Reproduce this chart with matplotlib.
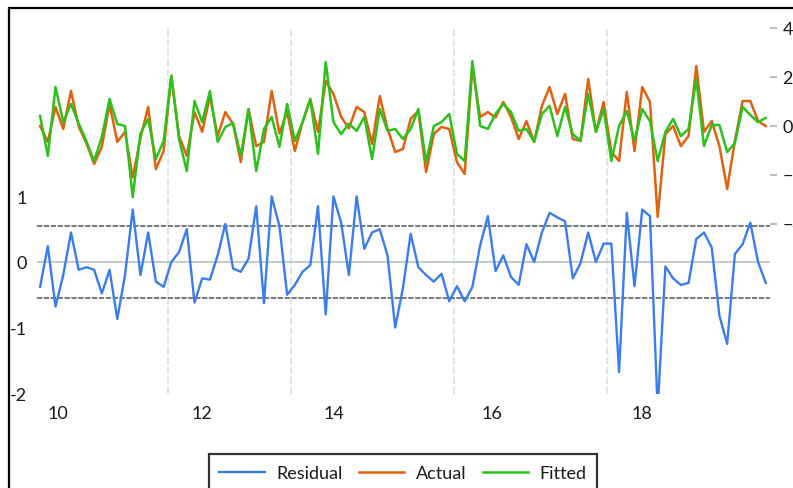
import numpy as np
import matplotlib
matplotlib.use('Agg')
import matplotlib.pyplot as plt
from matplotlib.patches import Rectangle

plt.rcParams['font.family'] = ['Lato', 'DejaVu Sans']

residual = [-0.38, 0.24, -0.68, -0.2, 0.45, -0.12, -0.08, -0.12, -0.48, -0.12,
            -0.87, -0.2, 0.8, -0.2, 0.45, -0.3, -0.38, 0.0, 0.15, 0.5,
            -0.62, -0.25, -0.27, 0.1, 0.58, -0.1, -0.15, 0.05, 0.85, -0.63,
            1.0, 0.55, -0.5, -0.35, -0.15, -0.05, 0.85, -0.8, 1.0, 0.6,
            -0.2, 1.0, 0.2, 0.45, 0.5, 0.1, -1.0, -0.4, 0.43, -0.08,
            -0.2, -0.3, -0.18, -0.6, -0.37, -0.6, -0.38, 0.25, 0.7, -0.14,
            0.1, -0.23, -0.35, 0.27, 0.0, 0.45, 0.75, 0.68, 0.62, -0.25,
            -0.02, 0.45, 0.0, 0.28, 0.28, -1.68, 0.75, -0.37, 0.8, 0.7,
            -2.25, -0.07, -0.25, -0.35, -0.32, 0.35, 0.45, 0.22, -0.82, -1.25,
            0.12, 0.27, 0.6, 0.0, -0.32]

actual = [0.0, -0.65, 0.78, -0.12, 1.43, -0.02, -0.7, -1.55, -0.85, 0.9,
          -0.65, -0.24, -2.1, -0.5, 0.78, -1.76, -1.02, 2.05, -0.41, -1.22,
          0.57, -0.24, 1.22, -0.41, 0.57, 0.08, -1.47, 0.69, -0.82, -0.65,
          1.43, -0.3, 0.57, -1.02, 0.16, 1.1, -0.24, 1.84, 1.31, 0.37,
          -0.1, 0.78, 0.57, -0.73, 1.22, -0.1, -1.06, -0.94, 0.29, 0.61,
          -1.88, -0.33, -0.04, -0.12, -1.47, -1.96, 2.4, 0.37, 0.57, 0.35,
          0.98, 0.37, -0.53, 0.2, -0.65, 0.82, 1.59, 0.49, 1.31, -0.53,
          -0.61, 1.92, -0.24, 0.98, -1.06, -1.43, 1.39, -1.02, 1.59, 0.98,
          -3.71, -0.33, 0.0, -0.82, -0.41, 2.45, -0.24, 0.2, -0.82, -2.57,
          -0.61, 1.02, 1.02, 0.2, 0.0]

fitted = [0.41, -1.22, 1.59, 0.16, 0.9, 0.1, -0.62, -1.43, -0.45, 1.1,
          0.08, 0.0, -2.9, -0.3, 0.29, -1.35, -0.61, 2.05, -0.53, -1.84,
          1.02, 0.16, 1.43, -0.65, -0.04, 0.12, -1.22, 0.69, -1.84, -0.12,
          0.37, -0.85, 0.9, -0.61, 0.16, 1.1, -1.14, 2.61, 0.16, -0.33,
          0.1, -0.2, 0.37, -1.35, 0.69, -0.2, -0.12, -0.53, -0.12, 0.69,
          -1.47, 0.0, 0.16, 0.49, -1.14, -1.43, 2.65, 0.0, -0.12, 0.5,
          0.9, 0.57, -0.2, -0.12, -0.65, 0.49, 0.82, -0.41, 0.78, -0.33,
          -0.61, 1.31, -0.24, 0.69, -1.43, 0.0, 0.61, -0.61, 0.69, 0.2,
          -1.43, -0.24, 0.29, -0.41, -0.12, 1.92, -0.82, 0.04, 0.04, -1.06,
          -0.7, 0.78, 0.45, 0.16, 0.33]

xtick_pos = [2.3, 21.0, 38.1, 58.5, 78.0]
xtick_labels = ['10', '12', '14', '16', '18']
year_breaks = [16.6, 32.5, 53.6, 73.45]
resid_band = 0.55

blue = '#3b7ded'
orange = '#e0620f'
green = '#2cc21c'
txt = '#1a1a1a'

x = np.arange(len(residual))

fig = plt.figure(figsize=(7.93, 4.89), dpi=100)
ax = fig.add_axes([37/793, 1-395/489, 733/793, 366/489])
ax2 = ax.twinx()

# residual panel on the left axis
for b in year_breaks:
    ax.axvline(b, color='#dde3e3', lw=1.3, ls=(0, (4, 1.5)), zorder=0)
ax.axhline(0, color='#b8c2c2', lw=1.2, zorder=1)
ax.axhline(resid_band, color='#4d5858', lw=1.1, ls=(0, (3.5, 1)), zorder=1)
ax.axhline(-resid_band, color='#4d5858', lw=1.1, ls=(0, (3.5, 1)), zorder=1)
l1, = ax.plot(x, residual, color=blue, lw=1.7, label='Residual', zorder=2)

ax.set_xlim(-0.4, 94.55)
ax.set_ylim(-2.015, 3.57)
ax.set_yticks([-2, -1, 0, 1])
ax.set_yticklabels(['-2', '-1', '0', '1'])
ax.set_xticks(xtick_pos)
ax.set_xticklabels(xtick_labels)
ax.tick_params(axis='y', length=0, pad=7, labelsize=13, labelcolor=txt)
ax.tick_params(axis='x', length=0, pad=8, labelsize=13, labelcolor=txt)

# actual / fitted on the right axis
l2, = ax2.plot(x, actual, color=orange, lw=1.8, label='Actual')
l3, = ax2.plot(x, fitted, color=green, lw=1.8, label='Fitted')
ax2.set_ylim(-10.94, 4.0)
ax2.set_yticks([-4, -2, 0, 2, 4])
ax2.tick_params(axis='y', length=5, width=1.5, color='#b8c2c2', pad=4,
                labelsize=13, labelcolor=txt)

for a in (ax, ax2):
    for s in a.spines.values():
        s.set_visible(False)
    a.patch.set_visible(False)

# outer frame (only left and top edges are inside the image)
fig.add_artist(Rectangle((8.5/793, -0.2), 1.2, 1.2 - 8.5/489 + 0.0,
                         transform=fig.transFigure, fill=False,
                         edgecolor='black', lw=1.6))

leg = fig.legend(handles=[l1, l2, l3], loc='upper center', ncol=3,
                 bbox_to_anchor=(403/793, 1-455/489), fontsize=13,
                 frameon=True, fancybox=False, edgecolor='black',
                 handlelength=2.5, handletextpad=0.65, columnspacing=0.9,
                 borderpad=0.6, borderaxespad=0)
leg.get_frame().set_linewidth(1.6)
for t in leg.get_texts():
    t.set_color(txt)

fig.savefig('out.png', dpi=100)
